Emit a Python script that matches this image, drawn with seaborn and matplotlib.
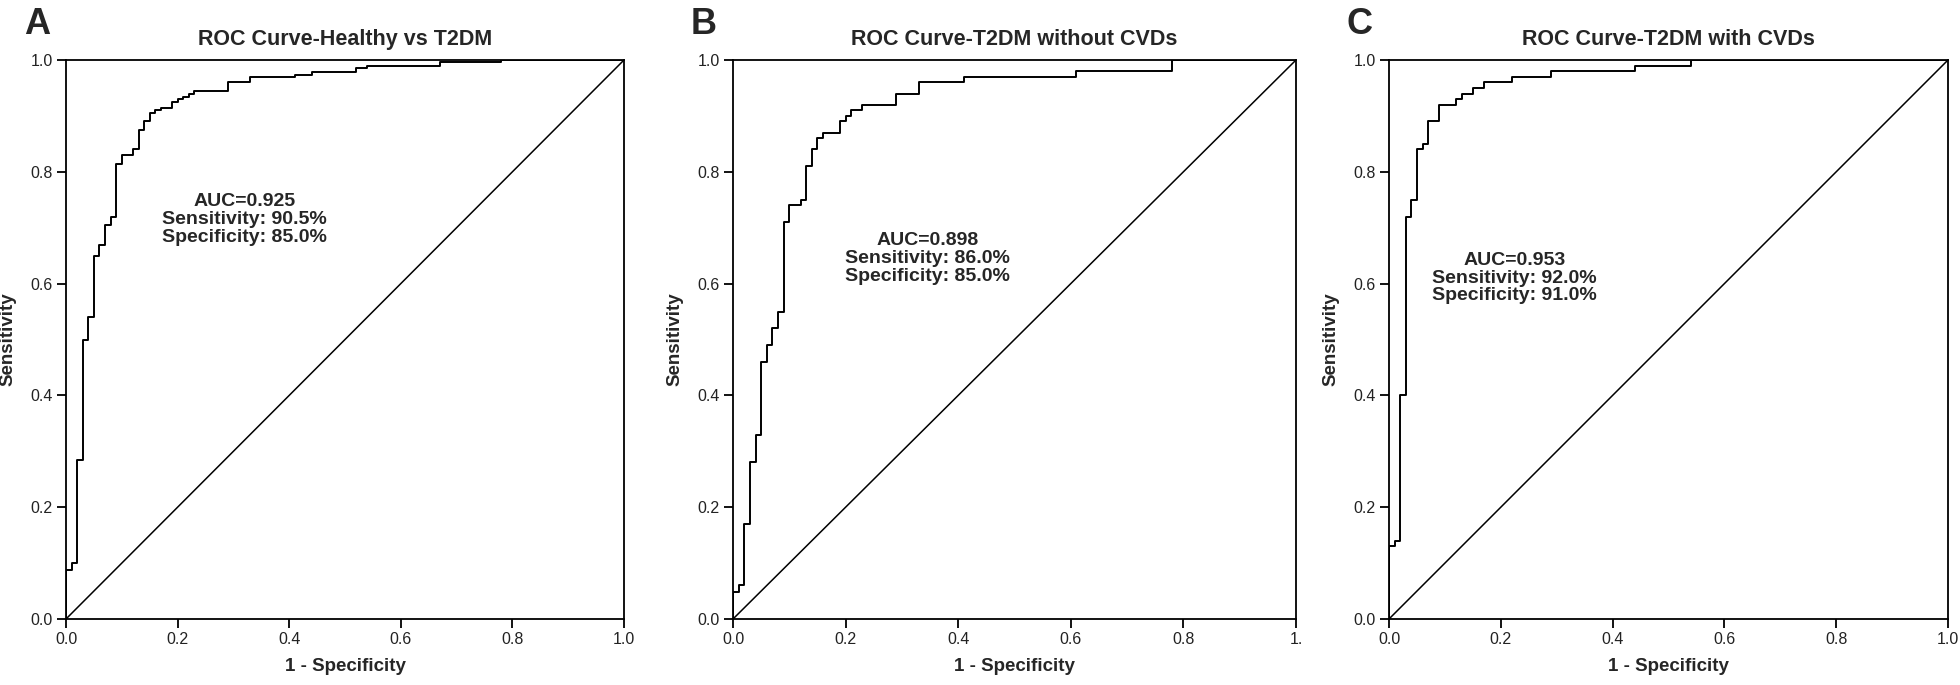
import matplotlib
matplotlib.use("Agg")
import matplotlib.pyplot as plt
import seaborn as sns


# ROC step corners (1 - specificity, sensitivity)
fpr_a = [0, 0, 0.01, 0.02, 0.03, 0.04, 0.05, 0.06, 0.07, 0.08, 0.09, 0.10, 0.12, 0.13,
         0.14, 0.15, 0.16, 0.17, 0.19, 0.20, 0.21, 0.22, 0.23, 0.29, 0.33, 0.41, 0.44,
         0.52, 0.54, 0.67, 0.78, 1.0]
tpr_a = [0, 0.088, 0.10, 0.284, 0.50, 0.54, 0.649, 0.669, 0.704, 0.72, 0.814, 0.83, 0.84,
         0.874, 0.89, 0.905, 0.91, 0.914, 0.925, 0.93, 0.934, 0.94, 0.945, 0.96, 0.969,
         0.974, 0.979, 0.985, 0.989, 0.996, 1.0, 1.0]

fpr_b = [0, 0, 0.01, 0.02, 0.03, 0.04, 0.05, 0.06, 0.07, 0.08, 0.09, 0.10, 0.12, 0.13,
         0.14, 0.15, 0.16, 0.19, 0.20, 0.21, 0.23, 0.29, 0.33, 0.41, 0.61, 0.78, 1.0]
tpr_b = [0, 0.049, 0.06, 0.17, 0.28, 0.33, 0.46, 0.49, 0.52, 0.55, 0.71, 0.74, 0.75, 0.81,
         0.84, 0.86, 0.87, 0.89, 0.90, 0.91, 0.92, 0.94, 0.96, 0.97, 0.98, 1.0, 1.0]

fpr_c = [0, 0, 0.01, 0.02, 0.03, 0.04, 0.05, 0.06, 0.07, 0.09, 0.12, 0.13, 0.15, 0.17,
         0.22, 0.29, 0.44, 0.54, 1.0]
tpr_c = [0, 0.13, 0.14, 0.40, 0.72, 0.75, 0.84, 0.85, 0.89, 0.92, 0.93, 0.94, 0.95, 0.96,
         0.97, 0.98, 0.99, 1.0, 1.0]

panel_letters = ["A", "B", "C"]
titles = ["ROC Curve-Healthy vs T2DM", "ROC Curve-T2DM without CVDs", "ROC Curve-T2DM with CVDs"]
auc_values = ["0.925", "0.898", "0.953"]
sensitivities = ["90.5%", "86.0%", "92.0%"]
specificities = ["85.0%", "85.0%", "91.0%"]
tick_values = [0.0, 0.2, 0.4, 0.6, 0.8, 1.0]
x_tick_labels = [
    ["0.0", "0.2", "0.4", "0.6", "0.8", "1.0"],
    ["0.0", "0.2", "0.4", "0.6", "0.8", "1."],
    ["0.0", "0.2", "0.4", "0.6", "0.8", "1.0"],
]
y_tick_labels = ["0.0", "0.2", "0.4", "0.6", "0.8", "1.0"]


def main():
    sns.set_style("white")
    plt.rcParams["font.family"] = ["Liberation Sans", "DejaVu Sans"]
    narrow = ["Liberation Sans Narrow", "Liberation Sans", "DejaVu Sans"]

    W, H = 1960, 685
    fig = plt.figure(figsize=(W / 100, H / 100), dpi=100)

    # axes boxes in pixels: left, right (top at 60, bottom at 619)
    boxes = [(66, 624), (733, 1296), (1389, 1948)]
    top_px, bot_px = 60, 619
    text_pos = [(0.32, 0.715), (0.345, 0.645), (0.225, 0.61)]
    curves = [(fpr_a, tpr_a), (fpr_b, tpr_b), (fpr_c, tpr_c)]

    for i, (l, r) in enumerate(boxes):
        ax = fig.add_axes([l / W, 1 - bot_px / H, (r - l) / W, (bot_px - top_px) / H])
        fpr, tpr = curves[i]
        sns.lineplot(x=fpr, y=tpr, ax=ax, estimator=None, sort=False,
                     drawstyle="steps-post", color="black", linewidth=1.4)
        sns.lineplot(x=[0, 1], y=[0, 1], ax=ax, estimator=None, sort=False,
                     color="black", linewidth=1.1)
        ax.set_xlim(0, 1)
        ax.set_ylim(0, 1)
        for s in ax.spines.values():
            s.set_visible(True)
            s.set_color("black")
            s.set_linewidth(1.3)
        ax.set_xticks(tick_values)
        ax.set_yticks(tick_values)
        ax.set_xticklabels(x_tick_labels[i], family=narrow, fontsize=11.5, color="#222222")
        ax.set_yticklabels(y_tick_labels, family=narrow, fontsize=11.5, color="#222222")
        ax.tick_params(direction="out", length=6.5, width=1.3, color="black",
                       bottom=True, left=True, pad=3)
        ax.set_xlabel("1 - Specificity", family=narrow, fontsize=13.5, fontweight="bold",
                      labelpad=8)
        ax.set_ylabel("Sensitivity", family=narrow, fontsize=13.5, fontweight="bold",
                      labelpad=10)
        ax.set_title(titles[i], fontsize=15.5, fontweight="bold", pad=11)
        tx, ty = text_pos[i]
        ax.text(tx, ty,
                f"AUC={auc_values[i]}\nSensitivity: {sensitivities[i]}\nSpecificity: {specificities[i]}",
                ha="center", va="center", fontsize=14, fontweight="bold",
                linespacing=1.07)
        fig.text((l - 42) / W, 1 - 7 / H, panel_letters[i], fontsize=26,
                 fontweight="bold", ha="left", va="top")

    fig.savefig("out.png", dpi=100)


if __name__ == "__main__":
    main()
